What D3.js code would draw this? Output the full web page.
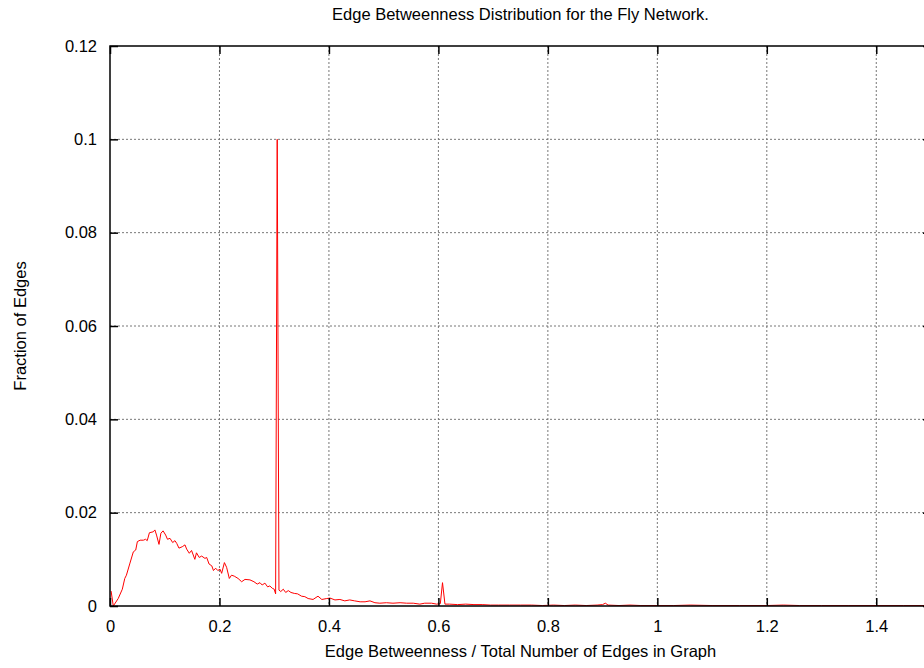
<!DOCTYPE html>
<html>
<head>
<meta charset="utf-8">
<script src="https://cdn.jsdelivr.net/npm/d3@7"></script>
<style>
  body { margin: 0; background: #fff; }
  svg { display: block; font-family: "Liberation Sans", Arial, sans-serif; }
  .title, .label { font-size: 16.5px; fill: #000; }
  .tick text { font-size: 16.5px; fill: #000; }
</style>
</head>
<body>
<svg id="flygraph"></svg>
<script>
// edge betweenness / number of edges (x) and fraction of edges (y)
var edgeBetw = [0.002, 0.006, 0.015, 0.0225, 0.027, 0.030, 0.0365, 0.0426, 0.047, 0.050,
  0.055, 0.061, 0.065, 0.068, 0.072, 0.079, 0.082, 0.085, 0.0895, 0.093,
  0.097, 0.1017, 0.105, 0.1096, 0.1145, 0.1187, 0.122, 0.126, 0.132, 0.137,
  0.140, 0.1449, 0.149, 0.155, 0.158, 0.163, 0.1675, 0.1735, 0.1766, 0.181,
  0.186, 0.189, 0.193, 0.197, 0.201, 0.204, 0.209, 0.213, 0.218, 0.222,
  0.227, 0.234, 0.2405, 0.2466, 0.2557, 0.263, 0.269, 0.274, 0.278, 0.283,
  0.288, 0.292, 0.2965, 0.300, 0.3026, 0.3055, 0.3087, 0.312, 0.3166, 0.321,
  0.3257, 0.3306, 0.3367, 0.3428, 0.350, 0.356, 0.362, 0.371, 0.380, 0.387,
  0.396, 0.402, 0.411, 0.420, 0.429, 0.438, 0.447, 0.457, 0.466, 0.475,
  0.484, 0.493, 0.505, 0.517, 0.530, 0.542, 0.554, 0.566, 0.575, 0.5875,
  0.5967, 0.6035, 0.6075, 0.612, 0.62, 0.635, 0.65, 0.665, 0.68, 0.695,
  0.71, 0.73, 0.75, 0.77, 0.79, 0.81, 0.83, 0.85, 0.87, 0.89,
  0.90, 0.905, 0.91, 0.93, 0.95, 0.97, 1.0, 1.03, 1.06, 1.1,
  1.15, 1.2, 1.23, 1.26, 1.3, 1.35, 1.4, 1.45, 1.5]
var edgeFrac = [0.0032, 0.0, 0.0016, 0.0036, 0.0059, 0.0066, 0.0092, 0.0116, 0.0120, 0.0138,
  0.0141, 0.0141, 0.0143, 0.0140, 0.0157, 0.0159, 0.0163, 0.0152, 0.0132, 0.0156,
  0.0161, 0.0152, 0.0143, 0.0145, 0.0136, 0.0140, 0.0134, 0.0124, 0.0127, 0.0131,
  0.0122, 0.0113, 0.0119, 0.0100, 0.0114, 0.0104, 0.0107, 0.0102, 0.0104, 0.0090,
  0.0086, 0.0076, 0.0081, 0.0076, 0.0079, 0.0070, 0.0093, 0.0083, 0.0059, 0.0066,
  0.0064, 0.0059, 0.0052, 0.0057, 0.0056, 0.0052, 0.0047, 0.0050, 0.0045, 0.0049,
  0.0041, 0.0043, 0.0038, 0.0036, 0.0026, 0.1000, 0.0034, 0.0031, 0.0036, 0.0029,
  0.0033, 0.0029, 0.0027, 0.0026, 0.0021, 0.0020, 0.0016, 0.0014, 0.0021, 0.0014,
  0.0016, 0.0017, 0.0013, 0.0014, 0.0011, 0.0013, 0.0011, 0.0009, 0.0009, 0.0011,
  0.0007, 0.0006, 0.0007, 0.0006, 0.0007, 0.0006, 0.0006, 0.0004, 0.0006, 0.0006,
  0.0004, 0.0005, 0.0050, 0.0004, 0.0004, 0.0003, 0.0004, 0.0003, 0.0003, 0.0002,
  0.0002, 0.0002, 0.0002, 0.0002, 0.0001, 0.0002, 0.0001, 0.0002, 0.0001, 0.0002,
  0.0003, 0.0006, 0.0002, 0.0001, 0.0002, 0.0001, 0.0001, 0.0001, 0.0002, 0.0001,
  0.0001, 0.0001, 0.0002, 0.0001, 0.0001, 0.0001, 0.0001, 0.0001, 0.0001]

var xTicks = [0, 0.2, 0.4, 0.6, 0.8, 1, 1.2, 1.4]
var yTicks = [0, 0.02, 0.04, 0.06, 0.08, 0.1, 0.12]

var screen = {width:924, height:668}
var margins = {left:110, right:-7, top:46, bottom:62}
var graph = {
    width: screen.width - margins.left - margins.right,
    height: screen.height - margins.top - margins.bottom
}

var svg = d3.select("#flygraph")
    .attr("width", screen.width)
    .attr("height", screen.height)

var target = svg.append("g")
    .attr("transform", "translate(" + margins.left + "," + margins.top + ")")

var xScale = d3.scaleLinear().domain([0, 1.5]).range([0, graph.width])
var yScale = d3.scaleLinear().domain([0, 0.12]).range([graph.height, 0])

//grid lines
var grid = target.append("g").classed("grid", true)
grid.selectAll(".vgrid")
    .data(xTicks.slice(1))
    .enter().append("line")
    .attr("x1", function(d) { return xScale(d) })
    .attr("x2", function(d) { return xScale(d) })
    .attr("y1", 0).attr("y2", graph.height)
    .attr("stroke", "#777").attr("stroke-dasharray", "2,2")
grid.selectAll(".hgrid")
    .data(yTicks.slice(1, -1))
    .enter().append("line")
    .attr("x1", 0).attr("x2", graph.width)
    .attr("y1", function(d) { return yScale(d) })
    .attr("y2", function(d) { return yScale(d) })
    .attr("stroke", "#777").attr("stroke-dasharray", "2,2")

//the curve
var line = d3.line()
    .x(function(d, i) { return xScale(edgeBetw[i]) })
    .y(function(d) { return yScale(d) })

target.append("path")
    .datum(edgeFrac)
    .attr("d", line)
    .attr("fill", "none")
    .attr("stroke", "#ff0000")
    .attr("stroke-width", 1)

//axes, ticks point inward like gnuplot
var xAxis = d3.axisBottom(xScale).tickValues(xTicks).tickSize(-8).tickPadding(14)
    .tickFormat(d3.format("~g"))
var xAxisG = target.append("g")
    .attr("transform", "translate(0," + graph.height + ")")
    .call(xAxis)

var xTop = d3.axisTop(xScale).tickValues(xTicks).tickSize(-8).tickFormat("")
var xTopG = target.append("g").call(xTop)

var yAxis = d3.axisLeft(yScale).tickValues(yTicks).tickSize(-8).tickPadding(13)
    .tickFormat(d3.format("~g"))
var yAxisG = target.append("g").call(yAxis)

var yRight = d3.axisRight(yScale).tickValues(yTicks).tickSize(-8).tickFormat("")
var yRightG = target.append("g")
    .attr("transform", "translate(" + graph.width + ",0)")
    .call(yRight)

;[xAxisG, xTopG, yAxisG, yRightG].forEach(function(g) {
    g.select(".domain").remove()
    g.selectAll(".tick line").attr("stroke", "#000").attr("stroke-width", 1.5)
})

//frame
target.append("rect")
    .attr("x", 0).attr("y", 0)
    .attr("width", graph.width).attr("height", graph.height)
    .attr("fill", "none").attr("stroke", "#000").attr("stroke-width", 1.5)

//labels
var labels = svg.append("g").classed("labels", true)
labels.append("text")
    .text("Edge Betweenness Distribution for the Fly Network.")
    .classed("title", true)
    .attr("text-anchor", "middle")
    .attr("x", margins.left + graph.width / 2)
    .attr("y", 20)

labels.append("text")
    .text("Edge Betweenness / Total Number of Edges in Graph")
    .classed("label", true)
    .attr("text-anchor", "middle")
    .attr("x", margins.left + graph.width / 2)
    .attr("y", 657)

labels.append("g")
    .attr("transform", "translate(26," + (margins.top + graph.height / 2) + ")")
    .append("text")
    .text("Fraction of Edges")
    .classed("label", true)
    .attr("text-anchor", "middle")
    .attr("transform", "rotate(-90)")
</script>
</body>
</html>
